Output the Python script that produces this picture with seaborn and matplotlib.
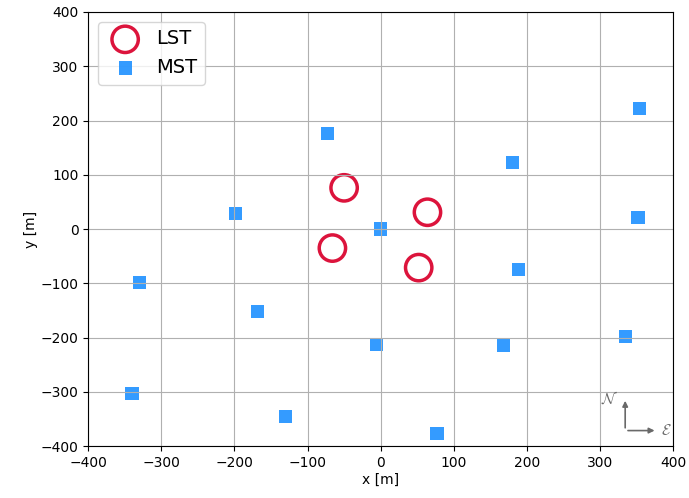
import pandas as pd
import matplotlib
matplotlib.use("Agg")
import matplotlib.pyplot as plt
import seaborn as sns

# telescope positions [m]
lst_x = [-50, 64, -66, 52]
lst_y = [76, 31, -35, -71]

mst_x = [354, 180, -73, -198, 0, 352, -330, 189, -169, -6, 168, 335, -340, -130, 77]
mst_y = [222, 123, 176, 28, 0, 21, -98, -75, -152, -212, -215, -198, -303, -345, -377]

ticks = [-400, -300, -200, -100, 0, 100, 200, 300, 400]


def make_plot():
    sns.set_style("white")
    plt.rcParams['font.family'] = ['DejaVu Sans']
    plt.rcParams['mathtext.fontset'] = 'cm'
    for k in ['text.color', 'axes.labelcolor', 'xtick.color', 'ytick.color']:
        plt.rcParams[k] = 'black'

    lst = pd.DataFrame({'x': lst_x, 'y': lst_y})
    mst = pd.DataFrame({'x': mst_x, 'y': mst_y})

    fig = plt.figure(figsize=(6.89, 4.98), dpi=100)
    ax = fig.add_axes([0.128, 0.104, 0.849, 0.872])

    sns.scatterplot(data=lst, x='x', y='y', ax=ax, marker='o', s=360,
                    facecolors='none', edgecolor='crimson', linewidth=2.5,
                    label='LST', zorder=1)
    sns.scatterplot(data=mst, x='x', y='y', ax=ax, marker='s', s=90,
                    color='dodgerblue', edgecolor='none', alpha=0.9,
                    label='MST', zorder=1)

    ax.set_xlim(-400, 400)
    ax.set_ylim(-400, 400)
    ax.set_xticks(ticks)
    ax.set_yticks(ticks)
    ax.set_axisbelow(False)
    ax.grid(True, color='#b0b0b0', linewidth=0.8)
    ax.tick_params(direction='out', length=3.5, width=0.8, labelsize=10,
                   bottom=True, left=True, colors='black')
    for sp in ax.spines.values():
        sp.set_color('black')
        sp.set_linewidth(0.8)
        sp.set_zorder(4)
    ax.set_xlabel('x [m]', fontsize=10, labelpad=2)
    ax.set_ylabel('y [m]', fontsize=10, labelpad=2)

    leg = ax.legend(loc='upper left', fontsize=14, frameon=True, framealpha=0.8,
                    edgecolor='#cccccc', borderpad=0.4, handletextpad=0.6,
                    markerscale=1.0)
    for t in leg.get_texts():
        t.set_color('black')
    leg.set_zorder(5)

    # compass
    ox, oy = 0.918, 0.036
    arrow = dict(arrowstyle='-|>', color='dimgray', lw=1.2, mutation_scale=8)
    ax.annotate('', xy=(ox, oy + 0.075), xytext=(ox, oy),
                xycoords='axes fraction', arrowprops=arrow)
    ax.annotate('', xy=(ox + 0.055, oy), xytext=(ox, oy),
                xycoords='axes fraction', arrowprops=arrow)
    ax.text(ox - 0.012, oy + 0.075, r'$\mathcal{N}$', transform=ax.transAxes,
            color='dimgray', fontsize=11, ha='right', va='center')
    ax.text(ox + 0.062, oy, r'$\mathcal{E}$', transform=ax.transAxes,
            color='dimgray', fontsize=11, ha='left', va='center')

    fig.savefig('out.png', dpi=100)
    plt.close(fig)


if __name__ == '__main__':
    make_plot()
